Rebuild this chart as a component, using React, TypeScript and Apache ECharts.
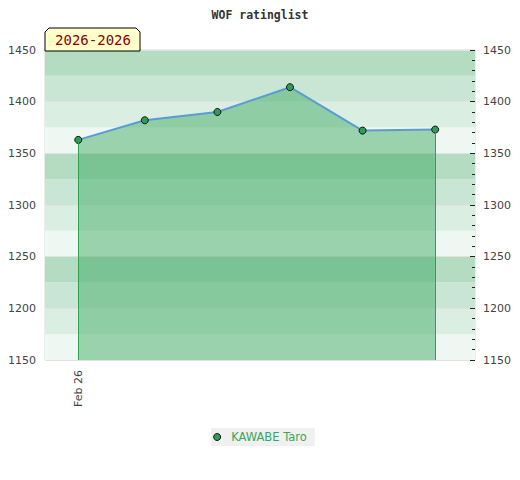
import React, { useEffect, useRef } from 'react';
import * as echarts from 'echarts';

const chartTitle = 'WOF ratinglist';
const periodLabel = '2026-2026';
const playerName = 'KAWABE Taro';
const dates = ['2026-02-26', '2026-03-09', '2026-03-21', '2026-04-02', '2026-04-14', '2026-04-26'];
const ratings = [1363, 1382, 1390, 1414, 1372, 1373];
const xTickDates = ['2026-02-26'];
const xRange = ['2026-02-20 12:00', '2026-05-02 14:00'];
const yMin = 1150;
const yMax = 1450;
const yLabelStep = 50;
const yBandStep = 25;
const bandColors = ['#eff7f2', '#dbeee2', '#c8e6d3', '#b3dcc1'];

export default function App() {
  const ref = useRef<HTMLDivElement>(null);
  useEffect(() => {
    document.body.style.margin = '0';
    if (!ref.current) return;
    const chart = echarts.init(ref.current, null, { renderer: 'svg' });
    const last = dates.length - 1;
    chart.setOption({
      animation: false,
      title: {
        text: chartTitle,
        left: 'center',
        top: 4,
        textStyle: { fontFamily: 'DejaVu Sans Mono', fontWeight: 'bold', fontSize: 11.5, color: '#333' },
      },
      grid: {
        left: 45,
        right: 45,
        top: 50,
        bottom: 120,
        show: true,
        borderColor: '#d8d8d8',
        borderWidth: 1,
        backgroundColor: 'transparent',
      },
      legend: {
        top: 428,
        left: 'center',
        backgroundColor: '#f0f0f0',
        padding: [3, 8, 3, 2],
        icon: 'circle',
        itemWidth: 18,
        itemHeight: 7,
        itemStyle: { color: '#2e9e57', borderColor: '#111', borderWidth: 1 },
        textStyle: { color: '#36a85a', fontSize: 11.5, fontFamily: 'DejaVu Sans' },
        data: [playerName],
      },
      xAxis: {
        type: 'time',
        min: xRange[0],
        max: xRange[1],
        axisLine: { show: false },
        axisTick: { show: false },
        splitLine: { show: false },
        axisLabel: {
          customValues: xTickDates,
          formatter: '{MMM} {d}',
          rotate: 90,
          margin: 10,
          color: '#444',
          fontSize: 11,
          fontFamily: 'DejaVu Sans',
        },
      },
      yAxis: [
        {
          type: 'value',
          position: 'left',
          min: yMin,
          max: yMax,
          interval: yBandStep,
          axisLine: { show: false },
          axisTick: { show: false },
          axisLabel: {
            margin: 9,
            color: '#444',
            fontSize: 11,
            fontFamily: 'DejaVu Sans',
            formatter: (v: number) => ((v - yMin) % yLabelStep === 0 ? String(v) : ''),
          },
          splitLine: { show: true, lineStyle: { color: ['#e2e2e2', 'rgba(0,0,0,0)'], width: 1 } },
          splitArea: { show: true, areaStyle: { color: bandColors } },
        },
        {
          type: 'value',
          position: 'right',
          min: yMin,
          max: yMax,
          interval: yLabelStep,
          axisLine: { show: false },
          axisTick: { show: true, inside: true, length: 5, lineStyle: { color: '#222', width: 1 } },
          minorTick: { show: true, splitNumber: 5, length: 3, lineStyle: { color: '#222', width: 1 } },
          axisLabel: {
            margin: 8,
            color: '#444',
            fontSize: 11,
            fontFamily: 'DejaVu Sans',
            formatter: (v: number) => String(v),
          },
          splitLine: { show: false },
        },
      ],
      series: [
        {
          name: playerName,
          type: 'line',
          data: dates.map((d, i) => [d, ratings[i]]),
          symbol: 'circle',
          symbolSize: 7,
          itemStyle: { color: '#2e9e57', borderColor: '#111', borderWidth: 1 },
          lineStyle: { color: '#5b9bd5', width: 2 },
          areaStyle: { color: '#39a860', opacity: 0.47, origin: 'start' },
          markLine: {
            silent: true,
            symbol: 'none',
            label: { show: false },
            lineStyle: { color: '#2ea44f', width: 1, type: 'solid' },
            data: [
              [{ coord: [dates[0], yMin] }, { coord: [dates[0], ratings[0]] }],
              [{ coord: [dates[last], yMin] }, { coord: [dates[last], ratings[last]] }],
            ],
          },
        },
      ],
      graphic: [
        {
          type: 'polygon',
          z: 100,
          shape: { points: [[45, 51], [45, 32], [49, 28], [136, 28], [140, 32], [140, 51]] },
          style: { fill: '#ffffcc', stroke: '#000', lineWidth: 1 },
        },
        {
          type: 'text',
          z: 101,
          style: {
            text: periodLabel,
            x: 93,
            y: 40,
            fill: '#8b0000',
            font: '14px "DejaVu Sans Mono"',
            align: 'center',
            verticalAlign: 'middle',
            textAlign: 'center',
            textVerticalAlign: 'middle',
          },
        },
      ],
    });
    return () => chart.dispose();
  }, []);
  return <div ref={ref} style={{ width: 520, height: 480 }} />;
}
